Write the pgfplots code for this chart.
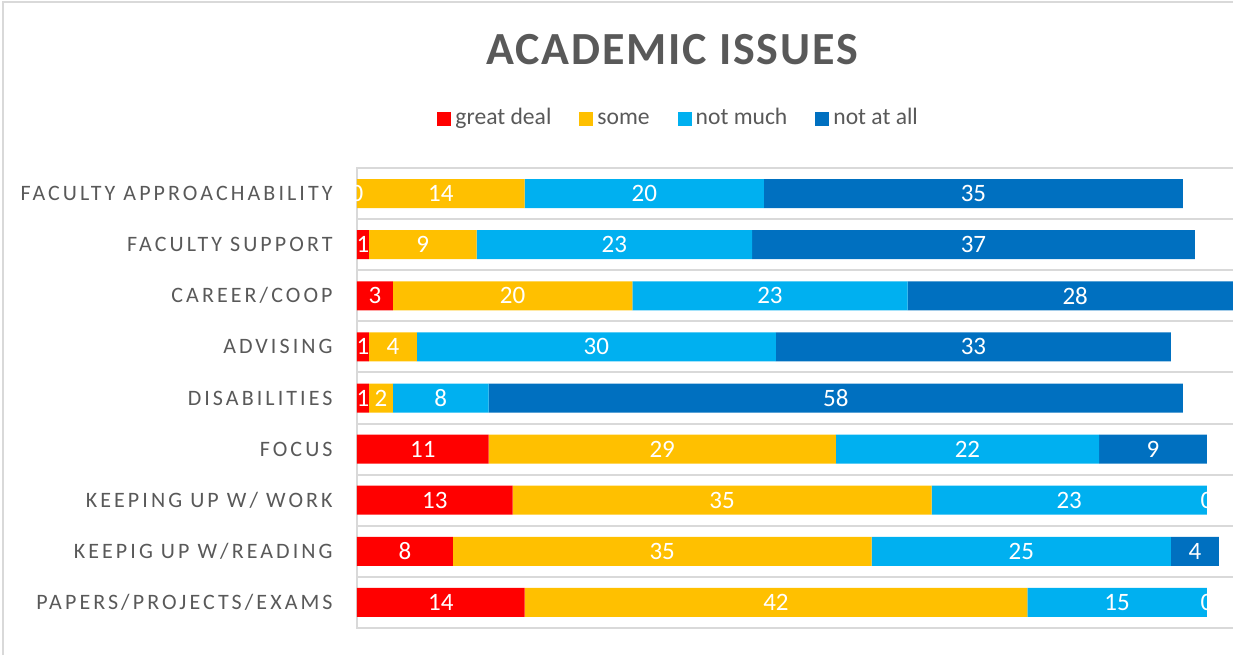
\documentclass[border=0pt]{standalone}
\usepackage{pgfplots}
\pgfplotsset{compat=1.18}
\usepackage{pgfplotstable}
\usepackage{fontspec}
\setmainfont{Carlito}
\newfontfamily\catfont[LetterSpace=14]{Carlito}
\newfontfamily\titlefont[LetterSpace=4]{Carlito}

\definecolor{cRed}{HTML}{FF0000}
\definecolor{cGold}{HTML}{FFC000}
\definecolor{cSky}{HTML}{00B0F0}
\definecolor{cBlue}{HTML}{0070C0}
\definecolor{txt}{HTML}{595959}
\definecolor{gridc}{HTML}{D9D9D9}

% y = 0 is the top row
\pgfplotstableread{
y  gd so nm na
0   0 14 20 35
1   1  9 23 37
2   3 20 23 28
3   1  4 30 33
4   1  2  8 58
5  11 29 22  9
6  13 35 23  0
7   8 35 25  4
8  14 42 15  0
}\data

\begin{document}
\begin{tikzpicture}
\path[use as bounding box] (0,0) rectangle (616.5pt,327.5pt);
\clip (0,0) rectangle (616.5pt,327.5pt);
\draw[gridc, line width=1pt] (1.5pt,0) -- (1.5pt,326.5pt) -- (616.5pt,326.5pt);
\node[text=txt, font=\titlefont\bfseries\fontsize{23}{26}\selectfont] at (336pt,302.5pt) {ACADEMIC ISSUES};
\begin{axis}[
  at={(178.5pt,13.5pt)}, anchor=south west,
  x=5.985pt, y=25.556pt,
  xmin=0, xmax=80,
  ymin=-0.5, ymax=8.5,
  y dir=reverse,
  xbar stacked,
  bar width=14.5pt,
  xtick=\empty,
  ytick={0,...,8},
  yticklabels={FACULTY APPROACHABILITY, FACULTY SUPPORT, CAREER/COOP, ADVISING, DISABILITIES, FOCUS, KEEPING UP W/ WORK, KEEPIG UP W/READING, PAPERS/PROJECTS/EXAMS},
  yticklabel style={font=\catfont\fontsize{11}{12}\selectfont, text=txt, inner sep=0pt, xshift=-12pt},
  minor ytick={-0.5,0.5,...,8.5},
  yminorgrids=true,
  minor grid style={gridc, line width=1pt},
  major tick length=0pt, minor tick length=0pt,
  axis line style={gridc, line width=1pt},
  legend columns=4,
  legend style={draw=none, at={(0.337,1.1065)}, anchor=center,
    font=\fontsize{11.8}{13}\selectfont, text=txt,
    nodes={text height=0.75em, text depth=0.22em},
    /tikz/every even column/.append style={column sep=12pt}},
  legend image code/.code={\fill[#1] (0pt,-3.5pt) rectangle (7pt,3.5pt);},
  point meta=explicit symbolic,
  nodes near coords,
  every node near coord/.append style={anchor=center, text=white,
    font=\fontsize{12.5}{14}\selectfont},
]
\addplot[fill=cRed, draw=none] table[x=gd, y=y, meta=gd] {\data};
\addlegendentry{great deal}
\addplot[fill=cGold, draw=none] table[x=so, y=y, meta=so] {\data};
\addlegendentry{some}
\addplot[fill=cSky, draw=none] table[x=nm, y=y, meta=nm] {\data};
\addlegendentry{not much}
\addplot[fill=cBlue, draw=none] table[x=na, y=y, meta=na] {\data};
\addlegendentry{not at all}
% labels of the zero segments, drawn last so they lie over the bars
\addplot[forget plot, stack plots=false, only marks, mark=none, draw=none]
  coordinates {(0,0) [0]};
\addplot[forget plot, stack plots=false, only marks, mark=none, draw=none,
  every node near coord/.append style={xshift=212.47pt}]
  coordinates {(71,6) [0] (71,8) [0]};
\end{axis}
\end{tikzpicture}
\end{document}
